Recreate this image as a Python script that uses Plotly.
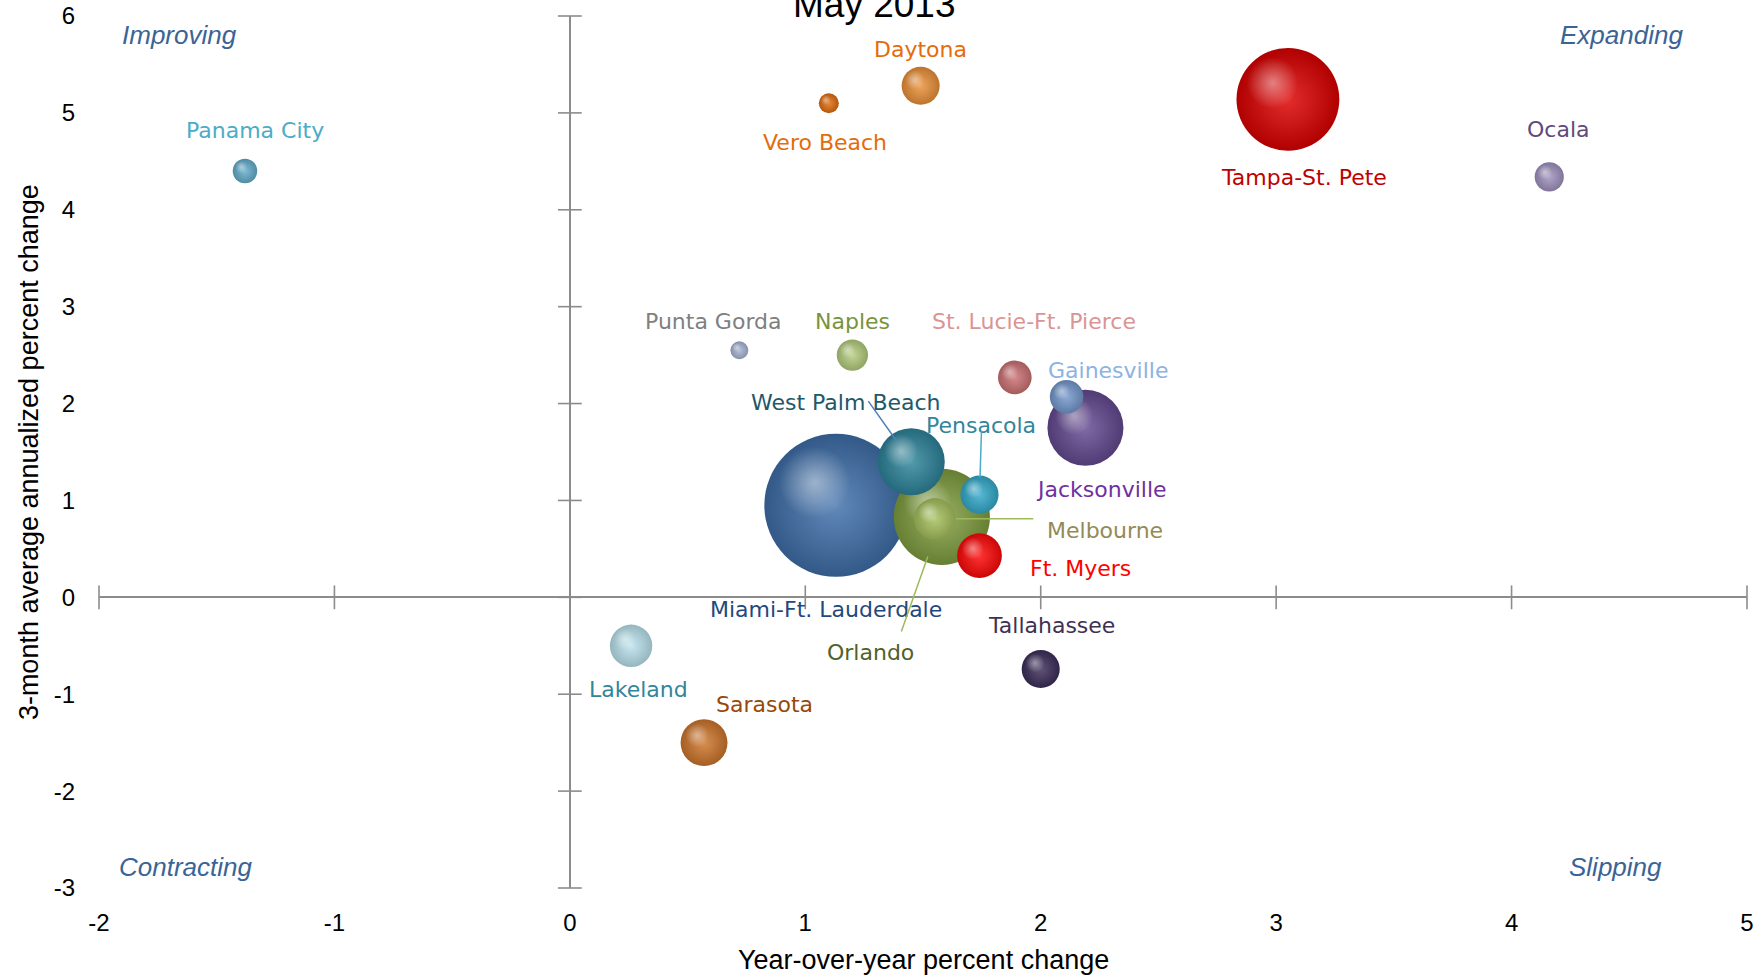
import plotly.graph_objects as go

# Florida metro areas: job growth, May 2013
cities = [
    "Miami-Ft. Lauderdale", "Tampa-St. Pete", "Orlando", "Jacksonville",
    "West Palm Beach", "Sarasota", "Ft. Myers", "Lakeland", "Melbourne",
    "Pensacola", "Daytona", "Tallahassee", "Gainesville",
    "St. Lucie-Ft. Pierce", "Naples", "Ocala", "Panama City",
    "Vero Beach", "Punta Gorda",
]
yoy_change = [1.13, 3.05, 1.58, 2.19, 1.45, 0.57, 1.74, 0.26, 1.55,
              1.74, 1.49, 2.00, 2.11, 1.89, 1.20, 4.16, -1.38, 1.10, 0.72]
three_month_change = [0.95, 5.14, 0.83, 1.75, 1.40, -1.50, 0.43, -0.50, 0.81,
                      1.06, 5.28, -0.74, 2.07, 2.27, 2.50, 4.34, 4.40, 5.10, 2.55]
employment = [2048, 1058, 925, 578, 450, 220, 200, 180, 173,
              145, 145, 145, 113, 113, 98, 85, 60, 40, 32]

x_ticks = [-2, -1, 0, 1, 2, 3, 4, 5]
y_ticks = [-3, -2, -1, 0, 1, 2, 3, 4, 5, 6]

quadrants = ["Improving", "Expanding", "Contracting", "Slipping"]

# per-city styling: sphere colour, label colour, label offset (px, up positive)
sphere_color = {
    "Miami-Ft. Lauderdale": "#3F70AA", "Tampa-St. Pete": "#DD0000",
    "Orlando": "#819F40", "Jacksonville": "#654A92",
    "West Palm Beach": "#2E859C", "Sarasota": "#CF762C",
    "Ft. Myers": "#FF0808", "Lakeland": "#BCE4EF", "Melbourne": "#A8C25E",
    "Pensacola": "#34AACB", "Daytona": "#EC9139", "Tallahassee": "#3C2F5A",
    "Gainesville": "#7499CE", "St. Lucie-Ft. Pierce": "#CE7274",
    "Naples": "#B5CE7E", "Ocala": "#A294C0", "Panama City": "#64AECC",
    "Vero Beach": "#E26D0E", "Punta Gorda": "#A8B4D2",
}
label_color = {
    "Miami-Ft. Lauderdale": "#1F497D", "Tampa-St. Pete": "#C00000",
    "Orlando": "#4F6228", "Jacksonville": "#7030A0",
    "West Palm Beach": "#215967", "Sarasota": "#984807",
    "Ft. Myers": "#FF0000", "Lakeland": "#31859C", "Melbourne": "#948A54",
    "Pensacola": "#31859C", "Daytona": "#E46C0A", "Tallahassee": "#3F3151",
    "Gainesville": "#8DB3E2", "St. Lucie-Ft. Pierce": "#D99594",
    "Naples": "#77933C", "Ocala": "#604A7B", "Panama City": "#4BACC6",
    "Vero Beach": "#E46C0A", "Punta Gorda": "#7F7F7F",
}
label_offset = {
    "Miami-Ft. Lauderdale": (-10, -104), "Tampa-St. Pete": (16, -78),
    "Orlando": (-71, -136), "Jacksonville": (16, -62),
    "West Palm Beach": (-65, 59), "Sarasota": (60, 38),
    "Ft. Myers": (101, -13), "Lakeland": (7, -44), "Melbourne": (170, -12),
    "Pensacola": (1, 69), "Daytona": (0, 36), "Tallahassee": (11, 44),
    "Gainesville": (41, 26), "St. Lucie-Ft. Pierce": (19, 56),
    "Naples": (0, 34), "Ocala": (9, 47), "Panama City": (10, 41),
    "Vero Beach": (-4, -39), "Punta Gorda": (-26, 29),
}
# leader lines: tail offset (px, down positive), gap at the sphere, colour
leaders = {
    "West Palm Beach": (-44, -62, 25, "#4F81BD"),
    "Pensacola": (2, -65, 17, "#4BACC6"),
    "Melbourne": (100, 0, 21, "#9BBB59"),
    "Orlando": (-41, 116, 42, "#9BBB59"),
}

W, H = 1758, 980
M = dict(l=99, r=11, t=16, b=92)
X_RANGE = [-2, 5]
Y_RANGE = [-3, 6]
SIZEREF = 0.2
px_per_x = (W - M["l"] - M["r"]) / (X_RANGE[1] - X_RANGE[0])
px_per_y = (H - M["t"] - M["b"]) / (Y_RANGE[1] - Y_RANGE[0])


def shade(hex_color, f):
    h = hex_color.lstrip("#")
    r, g, b = (int(h[i:i + 2], 16) for i in (0, 2, 4))
    if f < 1:
        r, g, b = (int(c * f) for c in (r, g, b))
    else:
        t = f - 1
        r, g, b = (int(c + (255 - c) * t) for c in (r, g, b))
    return f"rgb({r},{g},{b})"


fig = go.Figure()

# axis tick marks on the zero lines
fig.add_trace(go.Scatter(
    x=x_ticks, y=[0] * len(x_ticks), mode="markers", cliponaxis=False,
    marker=dict(symbol="line-ns", size=17, line=dict(width=1.6, color="#8C8C8C")),
    hoverinfo="skip", showlegend=False))
fig.add_trace(go.Scatter(
    x=[0] * len(y_ticks), y=y_ticks, mode="markers", cliponaxis=False,
    marker=dict(symbol="line-ew", size=17, line=dict(width=1.6, color="#8C8C8C")),
    hoverinfo="skip", showlegend=False))

# shaded spheres, largest first so small ones sit on top
for name, xv, yv, emp in zip(cities, yoy_change, three_month_change, employment):
    base = sphere_color[name]
    fig.add_trace(go.Scatter(
        x=[xv], y=[yv], mode="markers", name=name, showlegend=False,
        marker=dict(size=[emp], sizemode="area", sizeref=SIZEREF, opacity=1,
                    color=shade(base, 0.8),
                    gradient=dict(type="radial", color=shade(base, 1.18)),
                    line=dict(width=0)),
        hovertemplate=name + "<br>%{x:.2f}, %{y:.2f}<extra></extra>"))
    r = (emp / (2 * SIZEREF)) ** 0.5
    fig.add_trace(go.Scatter(
        x=[xv - 0.3 * r / px_per_x], y=[yv + 0.32 * r / px_per_y],
        mode="markers", showlegend=False, hoverinfo="skip",
        marker=dict(size=1.0 * r, color="rgba(255,255,255,0)", opacity=1,
                    gradient=dict(type="radial", color="rgba(255,255,255,0.45)"),
                    line=dict(width=0))))

annotations = []
for name, xv, yv in zip(cities, yoy_change, three_month_change):
    dx, dy = label_offset[name]
    annotations.append(dict(
        x=xv, y=yv, text=name, showarrow=False, xshift=dx, yshift=dy,
        font=dict(family="DejaVu Sans", size=22, color=label_color[name])))
    if name in leaders:
        ax, ay, gap, col = leaders[name]
        annotations.append(dict(
            x=xv, y=yv, text="", showarrow=True, arrowhead=0, arrowwidth=1.5,
            arrowcolor=col, ax=ax, ay=ay, standoff=gap))

quad_pos = [(0.0489, 0.978), (0.9238, 0.978), (0.0524, 0.0244), (0.9205, 0.0244)]
for q, (qx, qy) in zip(quadrants, quad_pos):
    annotations.append(dict(
        xref="paper", yref="paper", x=qx, y=qy, text="<i>" + q + "</i>",
        showarrow=False, xanchor="center", yanchor="middle",
        font=dict(family="Liberation Sans", size=26, color="#3A6496")))

annotations.append(dict(
    xref="paper", yref="paper", x=0.4703, y=1, yanchor="bottom", yshift=-11,
    text="May 2013", showarrow=False,
    font=dict(family="Liberation Sans", size=37, color="#000000")))
annotations.append(dict(
    xref="paper", yref="paper", x=0.5, y=-0.0823, yanchor="middle",
    text="Year-over-year percent change", showarrow=False,
    font=dict(family="Liberation Sans", size=27, color="#000000")))
annotations.append(dict(
    xref="paper", yref="paper", x=-0.0424, y=0.5, xanchor="center",
    yanchor="middle", textangle=-90,
    text="3-month average annualized percent change", showarrow=False,
    font=dict(family="Liberation Sans", size=27, color="#000000")))

axis_common = dict(
    showgrid=False, showline=False, ticks="", zeroline=True, automargin=False,
    zerolinecolor="#8C8C8C", zerolinewidth=2,
    tickfont=dict(family="Liberation Sans", size=24, color="#000000"),
)

fig.update_layout(
    width=W, height=H, margin=M,
    paper_bgcolor="white", plot_bgcolor="white",
    xaxis=dict(range=X_RANGE, tickvals=x_ticks, ticklabelstandoff=18,
               ticktext=[str(v) for v in x_ticks], **axis_common),
    yaxis=dict(range=Y_RANGE, tickvals=y_ticks, ticklabelstandoff=23,
               ticktext=[str(v) for v in y_ticks], **axis_common),
    annotations=annotations,
    showlegend=False,
)

fig.write_html("out.html")
